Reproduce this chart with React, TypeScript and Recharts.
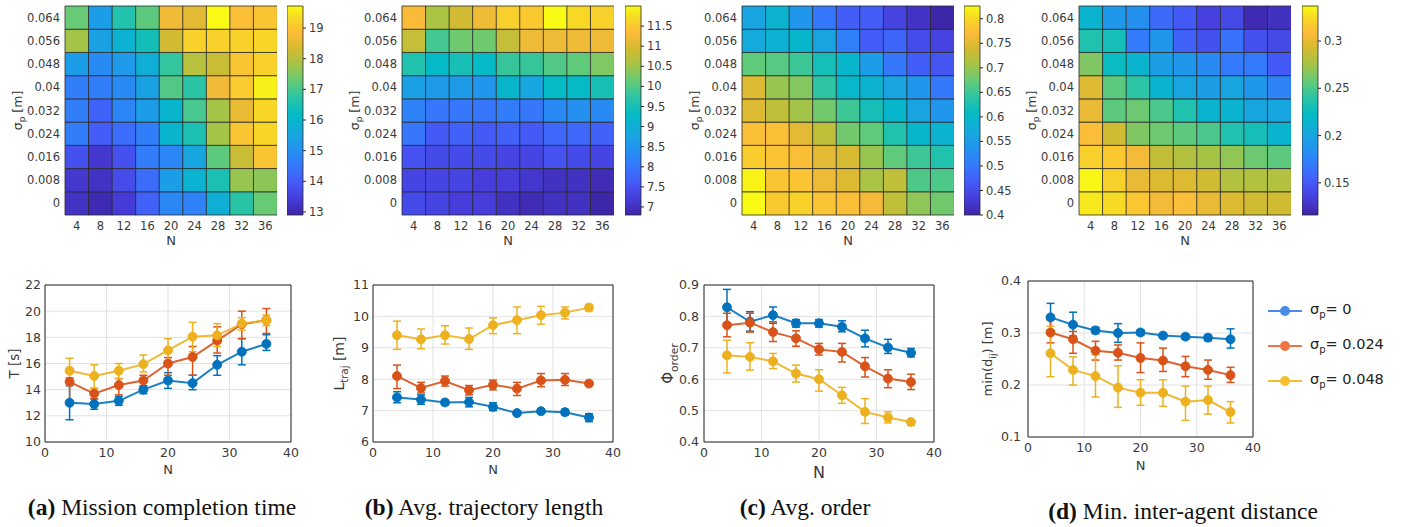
import React from "react";
import {
  BarChart,
  Bar,
  Cell,
  XAxis,
  YAxis,
  LineChart,
  Line,
  ErrorBar,
  CartesianGrid,
  ReferenceLine,
  Legend,
} from "recharts";

const FONT = "'DejaVu Sans', Verdana, sans-serif";
const INK = "#3a3a3a";
const AXIS = "#262626";

// shared categories
const N_VALUES = [4, 8, 12, 16, 20, 24, 28, 32, 36];
const SIGMA_LABELS = ["0", "0.008", "0.016", "0.024", "0.032", "0.04", "0.048", "0.056", "0.064"];
const X_TICKS = [0, 10, 20, 30, 40];

// heatmaps, rows listed top (sigma 0.064) to bottom (sigma 0)
const TIME_GRID = [
  [17.3, 15.3, 16.6, 17.2, 18.7, 18.5, 19.7, 18.9, 19.0],
  [17.8, 15.4, 15.9, 16.4, 18.3, 19.2, 19.2, 19.2, 19.3],
  [15.3, 14.9, 15.2, 15.8, 16.8, 18.0, 18.2, 19.0, 19.2],
  [14.6, 14.6, 14.9, 15.4, 17.1, 16.7, 18.7, 19.1, 19.6],
  [14.6, 14.1, 14.8, 15.3, 16.0, 17.0, 17.8, 18.6, 19.3],
  [14.6, 14.0, 14.3, 14.6, 16.0, 16.5, 17.8, 19.0, 19.3],
  [13.8, 13.3, 13.8, 14.6, 14.8, 15.5, 17.2, 18.2, 19.0],
  [13.3, 13.2, 13.7, 14.3, 15.3, 15.9, 16.5, 17.7, 17.6],
  [13.2, 13.0, 13.4, 14.1, 14.8, 14.7, 15.8, 16.7, 17.3],
];
const TRAJ_GRID = [
  [11.3, 10.6, 10.9, 11.2, 11.6, 11.5, 12.0, 11.7, 11.6],
  [10.8, 9.9, 10.2, 10.2, 10.8, 11.2, 11.2, 11.2, 11.2],
  [9.6, 9.3, 9.5, 9.3, 9.8, 9.8, 10.0, 10.1, 10.3],
  [8.7, 8.6, 8.6, 8.5, 9.2, 8.8, 9.3, 9.3, 9.5],
  [8.2, 8.0, 8.0, 8.0, 8.1, 8.0, 8.3, 8.4, 8.3],
  [8.0, 7.6, 7.7, 7.6, 7.7, 7.6, 7.8, 7.8, 7.7],
  [7.5, 7.4, 7.4, 7.4, 7.3, 7.3, 7.5, 7.4, 7.3],
  [7.3, 7.3, 7.3, 7.2, 7.2, 7.1, 7.0, 7.0, 6.9],
  [7.4, 7.3, 7.2, 7.2, 7.0, 6.9, 7.0, 7.0, 6.8],
];
const ORDER_GRID = [
  [0.56, 0.59, 0.54, 0.5, 0.47, 0.47, 0.44, 0.42, 0.4],
  [0.57, 0.585, 0.595, 0.56, 0.51, 0.47, 0.48, 0.45, 0.44],
  [0.67, 0.665, 0.65, 0.62, 0.595, 0.55, 0.5, 0.47, 0.46],
  [0.745, 0.7, 0.69, 0.64, 0.6, 0.59, 0.56, 0.54, 0.5],
  [0.745, 0.725, 0.705, 0.68, 0.65, 0.62, 0.595, 0.56, 0.54],
  [0.775, 0.775, 0.75, 0.725, 0.68, 0.67, 0.63, 0.595, 0.59],
  [0.79, 0.78, 0.775, 0.75, 0.74, 0.7, 0.67, 0.65, 0.63],
  [0.82, 0.78, 0.78, 0.76, 0.745, 0.71, 0.725, 0.66, 0.66],
  [0.825, 0.785, 0.795, 0.78, 0.775, 0.765, 0.725, 0.695, 0.68],
];
const DIST_GRID = [
  [0.215, 0.19, 0.185, 0.16, 0.15, 0.135, 0.14, 0.12, 0.125],
  [0.235, 0.23, 0.17, 0.19, 0.155, 0.145, 0.165, 0.145, 0.14],
  [0.265, 0.225, 0.215, 0.195, 0.19, 0.18, 0.17, 0.17, 0.15],
  [0.295, 0.255, 0.24, 0.215, 0.2, 0.195, 0.2, 0.19, 0.175],
  [0.3, 0.255, 0.26, 0.25, 0.235, 0.215, 0.215, 0.2, 0.2],
  [0.31, 0.29, 0.265, 0.26, 0.255, 0.25, 0.235, 0.23, 0.215],
  [0.32, 0.315, 0.305, 0.285, 0.28, 0.275, 0.27, 0.26, 0.255],
  [0.335, 0.32, 0.3, 0.295, 0.295, 0.29, 0.28, 0.28, 0.28],
  [0.33, 0.325, 0.315, 0.305, 0.31, 0.3, 0.295, 0.29, 0.29],
];

// colorbar limits and ticks
const TIME_RANGE: [number, number] = [12.9, 19.72];
const TRAJ_RANGE: [number, number] = [6.8, 12.0];
const ORDER_RANGE: [number, number] = [0.4, 0.826];
const DIST_RANGE: [number, number] = [0.116, 0.337];
const TIME_CBAR_TICKS = [13, 14, 15, 16, 17, 18, 19];
const TRAJ_CBAR_TICKS = [7, 7.5, 8, 8.5, 9, 9.5, 10, 10.5, 11, 11.5];
const ORDER_CBAR_TICKS = [0.4, 0.45, 0.5, 0.55, 0.6, 0.65, 0.7, 0.75, 0.8];
const DIST_CBAR_TICKS = [0.15, 0.2, 0.25, 0.3];

// line panels: series sigma_p = 0, 0.024, 0.048
const SERIES_NAMES = ["0", "0.024", "0.048"];
const SERIES_COLORS = ["#0072BD", "#D95319", "#EDB120"];
const LEGEND_COLORS = ["#4a8bea", "#ee7444", "#f4c030"];

const T_MEAN = [
  [13.0, 12.9, 13.15, 14.0, 14.7, 14.5, 15.9, 16.9, 17.5],
  [14.6, 13.7, 14.35, 14.7, 16.0, 16.5, 17.75, 19.0, 19.3],
  [15.45, 15.05, 15.45, 15.95, 17.0, 18.05, 18.15, 19.05, 19.3],
];
const T_LOW = [
  [11.7, 12.5, 12.8, 13.7, 14.1, 14.0, 15.1, 15.9, 17.0],
  [12.9, 13.3, 13.6, 14.2, 15.1, 15.1, 16.8, 17.9, 18.3],
  [14.35, 14.1, 14.85, 15.35, 16.1, 16.9, 17.3, 18.55, 18.9],
];
const T_HIGH = [
  [14.3, 13.3, 13.5, 14.3, 15.3, 15.1, 16.6, 17.9, 18.2],
  [14.9, 14.1, 14.85, 15.1, 16.45, 17.3, 18.8, 20.0, 20.2],
  [16.4, 15.9, 16.0, 16.65, 17.9, 19.15, 19.05, 19.5, 19.7],
];

const L_MEAN = [
  [7.42, 7.35, 7.26, 7.27, 7.12, 6.92, 6.98, 6.95, 6.78],
  [8.1, 7.72, 7.94, 7.65, 7.82, 7.7, 7.96, 7.98, 7.86],
  [9.4, 9.27, 9.4, 9.28, 9.72, 9.88, 10.04, 10.12, 10.28],
];
const L_LOW = [
  [7.25, 7.2, 7.18, 7.12, 7.0, 6.86, 6.92, 6.86, 6.65],
  [7.7, 7.56, 7.78, 7.5, 7.66, 7.48, 7.76, 7.8, 7.8],
  [8.95, 8.97, 9.12, 8.95, 9.45, 9.45, 9.75, 9.92, 10.18],
];
const L_HIGH = [
  [7.6, 7.5, 7.33, 7.42, 7.25, 6.98, 7.04, 7.04, 6.9],
  [8.45, 7.9, 8.1, 7.8, 7.97, 7.9, 8.18, 8.18, 7.93],
  [9.85, 9.6, 9.7, 9.63, 9.95, 10.3, 10.32, 10.3, 10.38],
];

const PHI_MEAN = [
  [0.829, 0.783, 0.804, 0.778, 0.778, 0.767, 0.73, 0.701, 0.684],
  [0.772, 0.78, 0.75, 0.73, 0.695, 0.687, 0.641, 0.602, 0.591],
  [0.676, 0.671, 0.657, 0.618, 0.6, 0.549, 0.496, 0.478, 0.464],
];
const PHI_LOW = [
  [0.778, 0.753, 0.778, 0.766, 0.766, 0.751, 0.703, 0.682, 0.671],
  [0.735, 0.75, 0.72, 0.705, 0.677, 0.655, 0.607, 0.573, 0.567],
  [0.62, 0.629, 0.634, 0.591, 0.562, 0.523, 0.459, 0.461, 0.453],
];
const PHI_HIGH = [
  [0.886, 0.815, 0.83, 0.79, 0.79, 0.786, 0.756, 0.727, 0.698],
  [0.81, 0.81, 0.783, 0.754, 0.714, 0.714, 0.669, 0.63, 0.616],
  [0.724, 0.716, 0.682, 0.645, 0.63, 0.574, 0.538, 0.496, 0.471],
];

const D_MEAN = [
  [0.33, 0.316, 0.305, 0.3, 0.301, 0.295, 0.293, 0.291, 0.288],
  [0.301, 0.288, 0.266, 0.262, 0.252, 0.247, 0.236, 0.229, 0.219],
  [0.261, 0.229, 0.217, 0.195, 0.185, 0.185, 0.168, 0.171, 0.148],
];
const D_LOW = [
  [0.305, 0.294, 0.299, 0.282, 0.296, 0.291, 0.288, 0.285, 0.271],
  [0.281, 0.261, 0.248, 0.248, 0.224, 0.226, 0.216, 0.211, 0.205],
  [0.216, 0.2, 0.177, 0.157, 0.161, 0.159, 0.132, 0.144, 0.127],
];
const D_HIGH = [
  [0.357, 0.34, 0.311, 0.318, 0.306, 0.299, 0.296, 0.296, 0.308],
  [0.325, 0.303, 0.284, 0.277, 0.281, 0.271, 0.255, 0.248, 0.234],
  [0.313, 0.254, 0.258, 0.237, 0.21, 0.21, 0.198, 0.198, 0.168],
];

// parula-like colormap stops [t, r, g, b]
const PARULA = [
  [0.0, 62, 38, 168],
  [0.08, 70, 62, 220],
  [0.16, 68, 92, 248],
  [0.24, 52, 122, 252],
  [0.32, 34, 148, 238],
  [0.4, 20, 170, 220],
  [0.48, 4, 186, 198],
  [0.56, 42, 196, 165],
  [0.64, 100, 202, 120],
  [0.72, 165, 196, 70],
  [0.8, 215, 186, 48],
  [0.87, 252, 187, 58],
  [0.94, 247, 215, 38],
  [1.0, 249, 251, 20],
];

function parula(t: number) {
  const v = Math.max(0, Math.min(1, t));
  for (let i = 1; i < PARULA.length; i++) {
    const a = PARULA[i - 1];
    const b = PARULA[i];
    if (v <= b[0]) {
      const f = (v - a[0]) / (b[0] - a[0]);
      const c = [1, 2, 3].map((k) => Math.round(a[k] + (b[k] - a[k]) * f));
      return `rgb(${c[0]},${c[1]},${c[2]})`;
    }
  }
  return "rgb(249,251,20)";
}

type Part = { t: string; sub?: boolean };

// rotated axis title with optional subscripts
function rotLabel(parts: Part[], cx: number, fs: number) {
  return (props: any) => {
    const vb = props.viewBox || {};
    const cy = (vb.y ?? 0) + (vb.height ?? 0) / 2;
    const x = cx + fs * 0.36;
    let shift = 0;
    return (
      <text
        x={x}
        y={cy}
        transform={`rotate(-90 ${x} ${cy})`}
        textAnchor="middle"
        fontSize={fs}
        fontFamily={FONT}
        fill={INK}
      >
        {parts.map((p, i) => {
          const target = p.sub ? fs * 0.3 : 0;
          const dy = target - shift;
          shift = target;
          return (
            <tspan key={i} dy={dy} fontSize={p.sub ? fs * 0.72 : fs}>
              {p.t}
            </tspan>
          );
        })}
      </text>
    );
  };
}

const SIGMA_LABEL: Part[] = [{ t: "σ" }, { t: "p", sub: true }, { t: " [m]" }];

interface HeatProps {
  grid: number[][];
  range: [number, number];
  ticks: number[];
  plotLeft: number;
  cbarLeft: number;
  id: string;
}

const Heatmap: React.FC<HeatProps> = ({ grid, range, ticks, plotLeft, cbarLeft, id }) => {
  const [lo, hi] = range;
  const data = N_VALUES.map((n) => {
    const row: Record<string, string | number> = { n: String(n) };
    SIGMA_LABELS.forEach((_, i) => (row[`r${i}`] = 1));
    return row;
  });
  const tick = { fontSize: 11.5, fill: INK, fontFamily: FONT };

  return (
    <>
      <div style={{ position: "absolute", left: plotLeft - 65, top: 0 }}>
        <BarChart
          width={277}
          height={254}
          data={data}
          margin={{ top: 6, right: 0, left: 0, bottom: 2 }}
          barCategoryGap={0}
          barGap={0}
        >
          <XAxis
            dataKey="n"
            interval={0}
            tickLine={false}
            axisLine={false}
            tickSize={0}
            tickMargin={7}
            tick={tick}
            height={37}
            label={{ value: "N", position: "insideBottom", offset: 7, fontSize: 13, fill: INK, fontFamily: FONT }}
          />
          <YAxis
            type="number"
            domain={[0, 9]}
            ticks={SIGMA_LABELS.map((_, i) => i + 0.5)}
            tickFormatter={(v: number) => SIGMA_LABELS[Math.floor(v)]}
            width={65}
            tickLine={false}
            axisLine={false}
            tickSize={0}
            tickMargin={5}
            tick={tick}
            label={rotLabel(SIGMA_LABEL, 17, 12.5)}
          />
          {SIGMA_LABELS.map((_, i) => (
            <Bar
              key={i}
              dataKey={`r${i}`}
              stackId="cells"
              isAnimationActive={false}
              stroke="#2a2a2a"
              strokeWidth={0.8}
            >
              {N_VALUES.map((_, c) => (
                <Cell key={c} fill={parula((grid[8 - i][c] - lo) / (hi - lo))} />
              ))}
            </Bar>
          ))}
        </BarChart>
      </div>
      <div style={{ position: "absolute", left: cbarLeft, top: 0 }}>
        <BarChart
          width={70}
          height={252}
          data={[{ k: "c", v: hi }]}
          margin={{ top: 6, right: 0, left: 0, bottom: 37 }}
          barCategoryGap={0}
        >
          <defs>
            <linearGradient id={id} x1="0" y1="1" x2="0" y2="0">
              {PARULA.map((s, i) => (
                <stop key={i} offset={s[0]} stopColor={`rgb(${s[1]},${s[2]},${s[3]})`} />
              ))}
            </linearGradient>
          </defs>
          <XAxis dataKey="k" hide />
          <YAxis
            orientation="right"
            type="number"
            domain={[lo, hi]}
            ticks={ticks}
            width={54}
            axisLine={false}
            tickLine={{ stroke: AXIS }}
            tickSize={3}
            tickMargin={3}
            tick={tick}
          />
          <Bar
            dataKey="v"
            fill={`url(#${id})`}
            stroke="#2a2a2a"
            strokeWidth={0.8}
            isAnimationActive={false}
          />
        </BarChart>
      </div>
    </>
  );
};

function errRows(mean: number[][], low: number[][], high: number[][]) {
  return N_VALUES.map((n, i) => {
    const row: Record<string, unknown> = { n };
    mean.forEach((m, k) => {
      row[`m${k}`] = m[i];
      row[`e${k}`] = [m[i] - low[k][i], high[k][i] - m[i]];
    });
    return row;
  });
}

const LegendBox = () => (
  <div style={{ fontFamily: FONT, fontSize: 14.5, color: "#222" }}>
    {SERIES_NAMES.map((name, k) => (
      <div key={k} style={{ display: "flex", alignItems: "center", height: 35 }}>
        <svg width={34} height={14}>
          <line x1={0} y1={7} x2={34} y2={7} stroke={LEGEND_COLORS[k]} strokeWidth={2} />
          <circle cx={17} cy={7} r={5} fill={LEGEND_COLORS[k]} />
        </svg>
        <span style={{ marginLeft: 8, whiteSpace: "nowrap" }}>
          σ<sub style={{ fontSize: 10 }}>p</sub>= {name}
        </span>
      </div>
    ))}
  </div>
);

interface PanelProps {
  left: number;
  top: number;
  width: number;
  plotHeight: number;
  xAxisHeight: number;
  nOffset: number;
  nSize: number;
  yAxisWidth: number;
  marginRight: number;
  tickGap: number;
  domain: [number, number];
  ticks: number[];
  mean: number[][];
  low: number[][];
  high: number[][];
  yLabel: Part[];
  yLabelX: number;
  yLabelSize: number;
  legend?: boolean;
}

const ErrPanel: React.FC<PanelProps> = (p) => {
  const data = errRows(p.mean, p.low, p.high);
  const tick = { fontSize: 12.5, fill: INK, fontFamily: FONT };
  const bottom = 6;
  return (
    <div style={{ position: "absolute", left: p.left, top: p.top }}>
      <LineChart
        width={p.width}
        height={15 + p.plotHeight + p.xAxisHeight + bottom}
        data={data}
        margin={{ top: 15, right: p.marginRight, left: 0, bottom }}
      >
        <CartesianGrid stroke="#e2e2e2" />
        <XAxis
          type="number"
          dataKey="n"
          domain={[0, 40]}
          ticks={X_TICKS}
          tickLine={false}
          tickSize={0}
          tickMargin={6}
          axisLine={{ stroke: AXIS }}
          tick={tick}
          height={p.xAxisHeight}
          label={{ value: "N", position: "insideBottom", offset: p.nOffset, fontSize: p.nSize, fill: INK, fontFamily: FONT }}
        />
        <YAxis
          type="number"
          domain={p.domain}
          ticks={p.ticks}
          width={p.yAxisWidth}
          tickLine={false}
          tickSize={0}
          tickMargin={p.tickGap}
          axisLine={{ stroke: AXIS }}
          tick={tick}
          label={rotLabel(p.yLabel, p.yLabelX, p.yLabelSize)}
        />
        <ReferenceLine x={40} stroke={AXIS} />
        <ReferenceLine y={p.domain[1]} stroke={AXIS} />
        {SERIES_COLORS.map((color, k) => (
          <Line
            key={k}
            dataKey={`m${k}`}
            stroke={color}
            strokeWidth={2}
            strokeOpacity={0.9}
            dot={{ r: 4.5, fill: color, stroke: color, strokeWidth: 1 }}
            activeDot={false}
            isAnimationActive={false}
          >
            <ErrorBar dataKey={`e${k}`} direction="y" width={4} strokeWidth={1.5} stroke={color} />
          </Line>
        ))}
        {p.legend && (
          <Legend
            layout="vertical"
            align="center"
            verticalAlign="middle"
            wrapperStyle={{ left: 308, top: 27, width: 125 }}
            content={() => <LegendBox />}
          />
        )}
      </LineChart>
    </div>
  );
};

const Caption: React.FC<{ tag: string; text: string; cx: number; top: number }> = ({ tag, text, cx, top }) => (
  <div
    style={{
      position: "absolute",
      left: cx - 200,
      top,
      width: 400,
      textAlign: "center",
      fontFamily: "'Liberation Serif', 'Times New Roman', serif",
      fontSize: 23.5,
      lineHeight: "26px",
      color: "#111",
      whiteSpace: "nowrap",
    }}
  >
    <b>{tag}</b> {text}
  </div>
);

export default function App() {
  return (
    <div
      style={{
        position: "absolute",
        left: 0,
        top: 0,
        width: 1404,
        height: 527,
        background: "#fff",
        overflow: "hidden",
      }}
    >
      <Heatmap grid={TIME_GRID} range={TIME_RANGE} ticks={TIME_CBAR_TICKS} plotLeft={65} cbarLeft={287} id="cbarA" />
      <Heatmap grid={TRAJ_GRID} range={TRAJ_RANGE} ticks={TRAJ_CBAR_TICKS} plotLeft={402} cbarLeft={625} id="cbarB" />
      <Heatmap grid={ORDER_GRID} range={ORDER_RANGE} ticks={ORDER_CBAR_TICKS} plotLeft={742} cbarLeft={964} id="cbarC" />
      <Heatmap grid={DIST_GRID} range={DIST_RANGE} ticks={DIST_CBAR_TICKS} plotLeft={1079} cbarLeft={1302} id="cbarD" />

      <ErrPanel
        left={0}
        top={270}
        width={300}
        plotHeight={157}
        xAxisHeight={35}
        nOffset={3}
        nSize={13}
        yAxisWidth={45}
        marginRight={9}
        tickGap={4}
        domain={[10, 22]}
        ticks={[10, 12, 14, 16, 18, 20, 22]}
        mean={T_MEAN}
        low={T_LOW}
        high={T_HIGH}
        yLabel={[{ t: "T [s]" }]}
        yLabelX={14}
        yLabelSize={13.5}
      />
      <ErrPanel
        left={330}
        top={270}
        width={292}
        plotHeight={157}
        xAxisHeight={35}
        nOffset={3}
        nSize={13}
        yAxisWidth={43}
        marginRight={9}
        tickGap={4}
        domain={[6, 11]}
        ticks={[6, 7, 8, 9, 10, 11]}
        mean={L_MEAN}
        low={L_LOW}
        high={L_HIGH}
        yLabel={[{ t: "L" }, { t: "traj", sub: true }, { t: " [m]" }]}
        yLabelX={9}
        yLabelSize={14}
      />
      <ErrPanel
        left={660}
        top={270}
        width={283}
        plotHeight={157}
        xAxisHeight={38}
        nOffset={2}
        nSize={16}
        yAxisWidth={44}
        marginRight={9}
        tickGap={5}
        domain={[0.4, 0.9]}
        ticks={[0.4, 0.5, 0.6, 0.7, 0.8, 0.9]}
        mean={PHI_MEAN}
        low={PHI_LOW}
        high={PHI_HIGH}
        yLabel={[{ t: "Φ" }, { t: "order", sub: true }]}
        yLabelX={8}
        yLabelSize={15}
      />
      <ErrPanel
        left={960}
        top={266}
        width={435}
        plotHeight={156}
        xAxisHeight={35}
        nOffset={2}
        nSize={13}
        yAxisWidth={68}
        marginRight={142}
        tickGap={7}
        domain={[0.1, 0.4]}
        ticks={[0.1, 0.2, 0.3, 0.4]}
        mean={D_MEAN}
        low={D_LOW}
        high={D_HIGH}
        yLabel={[{ t: "min(d" }, { t: "ij", sub: true }, { t: ") [m]" }]}
        yLabelX={27}
        yLabelSize={13}
        legend
      />

      <Caption tag="(a)" text="Mission completion time" cx={162} top={494} />
      <Caption tag="(b)" text="Avg. trajectory length" cx={484} top={494} />
      <Caption tag="(c)" text="Avg. order" cx={805} top={494} />
      <Caption tag="(d)" text="Min. inter-agent distance" cx={1183} top={498} />
    </div>
  );
}
